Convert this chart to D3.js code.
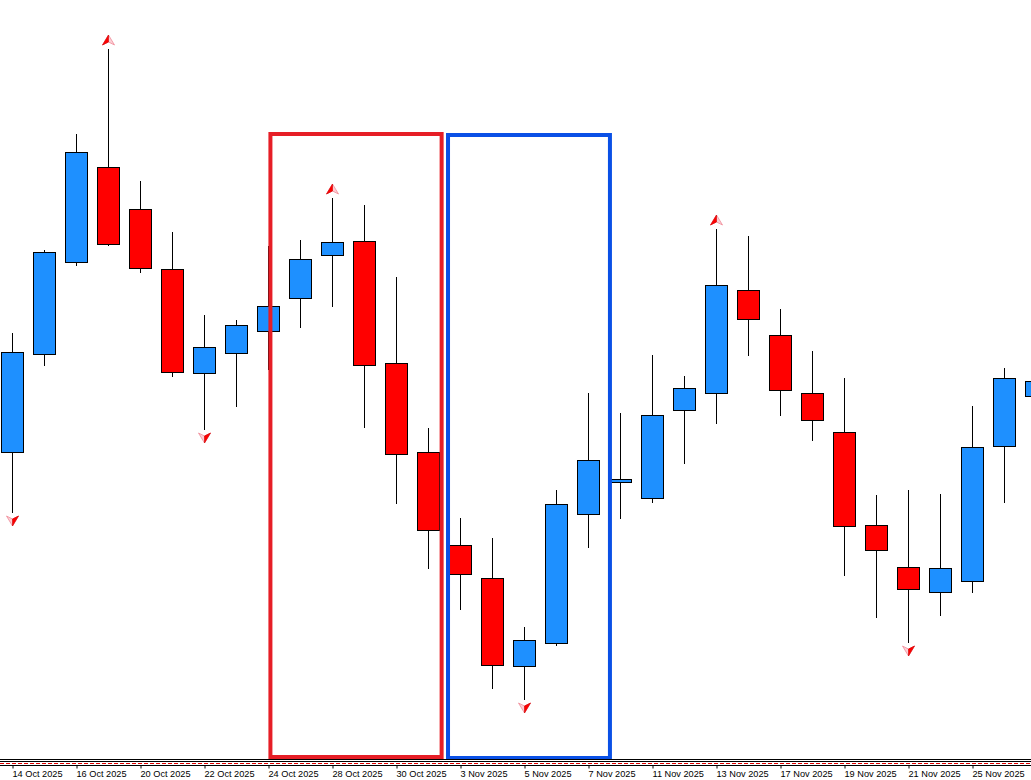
<!DOCTYPE html>
<html>
<head>
<meta charset="utf-8">
<script src="https://cdn.jsdelivr.net/npm/d3@7"></script>
<style>
  body { margin: 0; background: #fff; overflow: hidden; }
  text { font-family: "Liberation Sans", Arial, sans-serif; }
</style>
</head>
<body>
<script>
// daily candles, price units are arbitrary (no price scale shown on the chart)
const dates = ["14 Oct 2025","15 Oct 2025","16 Oct 2025","17 Oct 2025","20 Oct 2025","21 Oct 2025",
  "22 Oct 2025","23 Oct 2025","24 Oct 2025","27 Oct 2025","28 Oct 2025","29 Oct 2025","30 Oct 2025",
  "31 Oct 2025","3 Nov 2025","4 Nov 2025","5 Nov 2025","6 Nov 2025","7 Nov 2025","10 Nov 2025",
  "11 Nov 2025","12 Nov 2025","13 Nov 2025","14 Nov 2025","17 Nov 2025","18 Nov 2025","19 Nov 2025",
  "20 Nov 2025","21 Nov 2025","24 Nov 2025","25 Nov 2025","26 Nov 2025","27 Nov 2025"];

const opens  = [4054,4103,4149,4196.5,4175.5,4145.5,4093.5,4103.5,4114.5,4131,4152.5,4159.5,4098.5,
  4054,4007.5,3991,3947,3958.5,4023,4039,4031,4075,4083.5,4135,4112.5,4083.5,4064,4017.5,3996.5,
  3984,3989.5,4057,4082];
const highs  = [4113.5,4155,4213,4255.5,4189.5,4164,4122.5,4120,4157,4160,4181,4177.5,4141.5,
  4066,4021,4011,3966.5,4035,4083.5,4073.5,4102.5,4092,4165.5,4162,4125.5,4104.5,4091,4032.5,4035,
  4033,4077,4096,4094];
const lows   = [4023.5,4097,4147,4157,4143.5,4091.5,4065,4076.5,4095,4116,4126.5,4066,4028,
  3995.5,3975,3935.5,3930,3957,4006,4020.5,4028.5,4048,4068,4102,4072,4059.5,3992,3971,3958.5,
  3972,3983.5,4028.5,4079];
const closes = [4104,4154,4204,4158,4146,4094,4106.5,4117.5,4127,4150.5,4159,4097.5,4053,
  4015,3993,3947.5,3960,4028,4050,4040.5,4072.5,4086,4137.5,4120.5,4085,4070,4017,4005,3985.5,
  3996,4056.5,4091,4089.5];

// fractal marks (candle index)
const upFractals = [3, 10, 22];
const downFractals = [0, 6, 16, 28];

// every second candle gets a date label
const tickIdx = [0,2,4,6,8,10,12,14,16,18,20,22,24,26,28,30];

// rectangles drawn on the chart: time in candle index, price top/bottom
const zoneFrom   = [8.06, 13.61];
const zoneTo     = [13.41, 18.67];
const zoneTop    = [4213, 4212.5];
const zoneBottom = [3901.5, 3901];

const width = 1031, height = 780;
const bull = "#1e90ff", bear = "#ff0000";
const zoneColors = ["#e61e26", "#0a50e6"];

const candles = dates.map((d, i) => ({
  i: i, date: d, o: opens[i], h: highs[i], l: lows[i], c: closes[i]
}));

const x = d3.scaleLinear().domain([0, 32]).range([12.5, 12.5 + 32 * 32]);
const y = d3.scaleLinear().domain([3900, 4280]).range([760, 0]);

const svg = d3.select("body").append("svg")
  .attr("width", width)
  .attr("height", height);

svg.append("rect").attr("width", width).attr("height", height).attr("fill", "#fff");

const plot = svg.append("g").attr("class", "candles");

// wicks
plot.selectAll("line.wick")
  .data(candles)
  .enter().append("line")
  .attr("class", "wick")
  .attr("x1", d => x(d.i)).attr("x2", d => x(d.i))
  .attr("y1", d => Math.round(y(d.h)))
  .attr("y2", d => Math.round(y(d.l)))
  .attr("stroke", "#000")
  .attr("stroke-width", 1);

// bodies
plot.selectAll("rect.body")
  .data(candles)
  .enter().append("rect")
  .attr("class", "body")
  .attr("x", d => x(d.i) - 11)
  .attr("y", d => Math.round(Math.min(y(d.o), y(d.c))) + 0.5)
  .attr("width", 22)
  .attr("height", d => Math.max(1, Math.round(Math.abs(y(d.o) - y(d.c)))))
  .attr("fill", d => d.c >= d.o ? bull : bear)
  .attr("stroke", "#000")
  .attr("stroke-width", 1);

// fractal arrows
const arrows = svg.append("g").attr("class", "fractals");
upFractals.forEach(i => {
  const cx = x(i), b = Math.round(y(highs[i])) - 4;
  arrows.append("path")
    .attr("d", `M${cx},${b - 10}L${cx + 6},${b}L${cx},${b - 3}L${cx - 6},${b}Z`)
    .attr("fill", "#fbd0d6").attr("stroke", "#f08a98").attr("stroke-width", 0.8);
  arrows.append("path")
    .attr("d", `M${cx},${b - 10}L${cx},${b - 3}L${cx - 6},${b}Z`)
    .attr("fill", "#ff0000").attr("stroke", "#d00000").attr("stroke-width", 0.6);
});
downFractals.forEach(i => {
  const cx = x(i), b = Math.round(y(lows[i])) + 3;
  arrows.append("path")
    .attr("d", `M${cx},${b + 10}L${cx + 6},${b}L${cx},${b + 3}L${cx - 6},${b}Z`)
    .attr("fill", "#fbd0d6").attr("stroke", "#f08a98").attr("stroke-width", 0.8);
  arrows.append("path")
    .attr("d", `M${cx},${b + 10}L${cx},${b + 3}L${cx + 6},${b}Z`)
    .attr("fill", "#ff0000").attr("stroke", "#d00000").attr("stroke-width", 0.6);
});

// rectangles
svg.append("g").attr("class", "zones")
  .selectAll("rect")
  .data(zoneFrom)
  .enter().append("rect")
  .attr("x", (d, k) => x(zoneFrom[k]))
  .attr("y", (d, k) => y(zoneTop[k]))
  .attr("width", (d, k) => x(zoneTo[k]) - x(zoneFrom[k]))
  .attr("height", (d, k) => y(zoneBottom[k]) - y(zoneTop[k]))
  .attr("fill", "none")
  .attr("stroke", (d, k) => zoneColors[k])
  .attr("stroke-width", 4);

// bottom frame lines
svg.append("line").attr("x1", 0).attr("x2", width).attr("y1", 759.5).attr("y2", 759.5)
  .attr("stroke", "#000");
svg.append("line").attr("x1", 0).attr("x2", width).attr("y1", 761.5).attr("y2", 761.5)
  .attr("stroke", "#000");
svg.append("line").attr("x1", 0).attr("x2", width).attr("y1", 763.5).attr("y2", 763.5)
  .attr("stroke", "#e00000").attr("stroke-dasharray", "4,2");
svg.append("line").attr("x1", 0).attr("x2", width).attr("y1", 765.5).attr("y2", 765.5)
  .attr("stroke", "#000");

// date axis
const xAxis = d3.axisBottom(x)
  .tickValues(tickIdx)
  .tickSize(3)
  .tickSizeOuter(0)
  .tickFormat(i => dates[i]);

const ax = svg.append("g")
  .attr("class", "x axis")
  .attr("transform", "translate(0,765.5)")
  .call(xAxis);

ax.select(".domain").remove();
ax.selectAll(".tick line").attr("stroke", "#000");
ax.selectAll(".tick text")
  .attr("x", -0.5)
  .attr("y", 11.5)
  .attr("dy", 0)
  .style("text-anchor", "start")
  .style("font-size", "9.2px")
  .attr("fill", "#000");
</script>
</body>
</html>
